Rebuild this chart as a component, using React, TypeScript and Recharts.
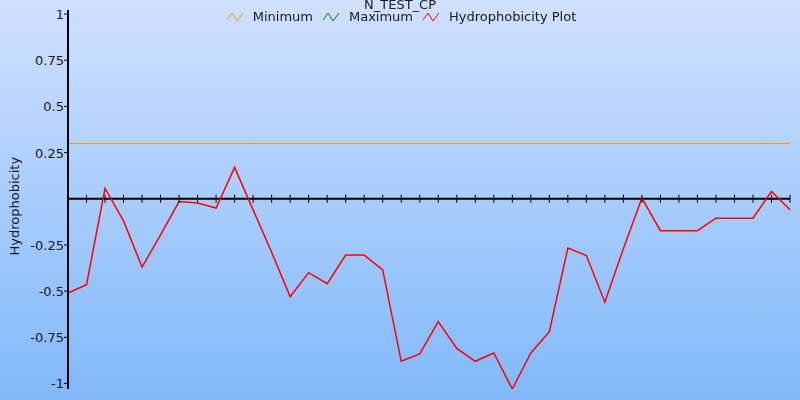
import React from 'react';
import { LineChart, Line, XAxis, YAxis, Legend } from 'recharts';

const FONT = '"DejaVu Sans", Verdana, sans-serif';

// one value per residue window
const HYDRO = [
  -0.51, -0.465, 0.056, -0.12, -0.37, -0.195, -0.015, -0.023, -0.05, 0.17,
  -0.06, -0.29, -0.53, -0.4, -0.46, -0.305, -0.305, -0.385, -0.88, -0.84,
  -0.665, -0.81, -0.88, -0.835, -1.03, -0.835, -0.72, -0.267, -0.307, -0.56,
  -0.27, 0.004, -0.173, -0.173, -0.173, -0.105, -0.105, -0.105, 0.04, -0.06,
];
const MINIMUM = 0.3;
const Y_TICKS = [-1, -0.75, -0.5, -0.25, 0, 0.25, 0.5, 0.75, 1];

const SERIES = [
  { key: 'min', name: 'Minimum', color: '#eea000' },
  { key: 'max', name: 'Maximum', color: '#008000' },
  { key: 'hydro', name: 'Hydrophobicity Plot', color: '#ff0000' },
];

const data = HYDRO.map((v, i) => ({ idx: i, hydro: v, min: MINIMUM, max: null as number | null, zero: 0 }));

const YTick = (props: any) => {
  const { x, y, payload } = props;
  const ax = x + 6;
  return (
    <g>
      {payload.value !== 0 && (
        <>
          <line x1={ax - 2} x2={ax + 3} y1={y} y2={y} stroke="#000" strokeWidth={1} />
          <text x={ax - 2} y={y} dy={5} textAnchor="end" fontSize={13} fontFamily={FONT} fill="#1a1a1a">
            {payload.value}
          </text>
        </>
      )}
    </g>
  );
};

// x-axis drawn along y=0, one tick per data point
const XTickDot = (props: any) => {
  const { cx, cy, index } = props;
  return <line key={index} x1={cx} x2={cx} y1={cy - 4} y2={cy + 4} stroke="#000" strokeWidth={1} />;
};

const LegendContent = () => (
  <div style={{ fontFamily: FONT, fontSize: 13, color: '#1a1a1a', textAlign: 'center', lineHeight: '14px' }}>
    <div style={{ marginTop: -2 }}>N_TEST_CP</div>
    <div style={{ display: 'flex', justifyContent: 'center', alignItems: 'center', gap: 10, marginLeft: 3, marginTop: -2 }}>
      {SERIES.map((s) => (
        <span key={s.key} style={{ display: 'inline-flex', alignItems: 'center' }}>
          <svg width={16} height={12} style={{ marginRight: 10 }}>
            <polyline points="0,9 5,2 10,10 16,2" fill="none" stroke={s.color} strokeWidth={1} />
          </svg>
          {s.name}
        </span>
      ))}
    </div>
  </div>
);

export default function App() {
  return (
    <div
      style={{
        position: 'fixed',
        top: 0,
        left: 0,
        width: 800,
        height: 400,
        background: 'linear-gradient(to bottom, #d0e0ff 0%, #80b9fa 100%)',
      }}
    >
      <LineChart width={800} height={400} data={data} margin={{ top: 10, right: 10, left: 0, bottom: 11 }}>
        <XAxis dataKey="idx" type="number" domain={[0, HYDRO.length - 1]} hide />
        <YAxis
          type="number"
          domain={[-1.03, 1.022]}
          ticks={Y_TICKS}
          interval={0}
          allowDataOverflow
          width={68}
          axisLine={{ stroke: '#000', strokeWidth: 2 }}
          tickLine={false}
          tick={<YTick />}
          label={{
            value: 'Hydrophobicity',
            angle: -90,
            position: 'insideLeft',
            dx: 9,
            dy: 56,
            style: { fontFamily: FONT, fontSize: 13, fill: '#1a1a1a' },
          }}
        />
        <Legend
          verticalAlign="middle"
          layout="horizontal"
          wrapperStyle={{ top: 0, left: 0, width: 800 }}
          content={<LegendContent />}
        />
        <Line dataKey="zero" stroke="#000" strokeWidth={2} dot={<XTickDot />} legendType="none" isAnimationActive={false} />
        <Line dataKey="min" name="Minimum" stroke="#eea000" strokeWidth={1} shapeRendering="crispEdges" dot={false} isAnimationActive={false} />
        <Line dataKey="max" name="Maximum" stroke="#008000" strokeWidth={1} dot={false} isAnimationActive={false} />
        <Line type="linear" dataKey="hydro" name="Hydrophobicity Plot" stroke="#ff0000" strokeWidth={1.5} dot={false} isAnimationActive={false} />
      </LineChart>
    </div>
  );
}
